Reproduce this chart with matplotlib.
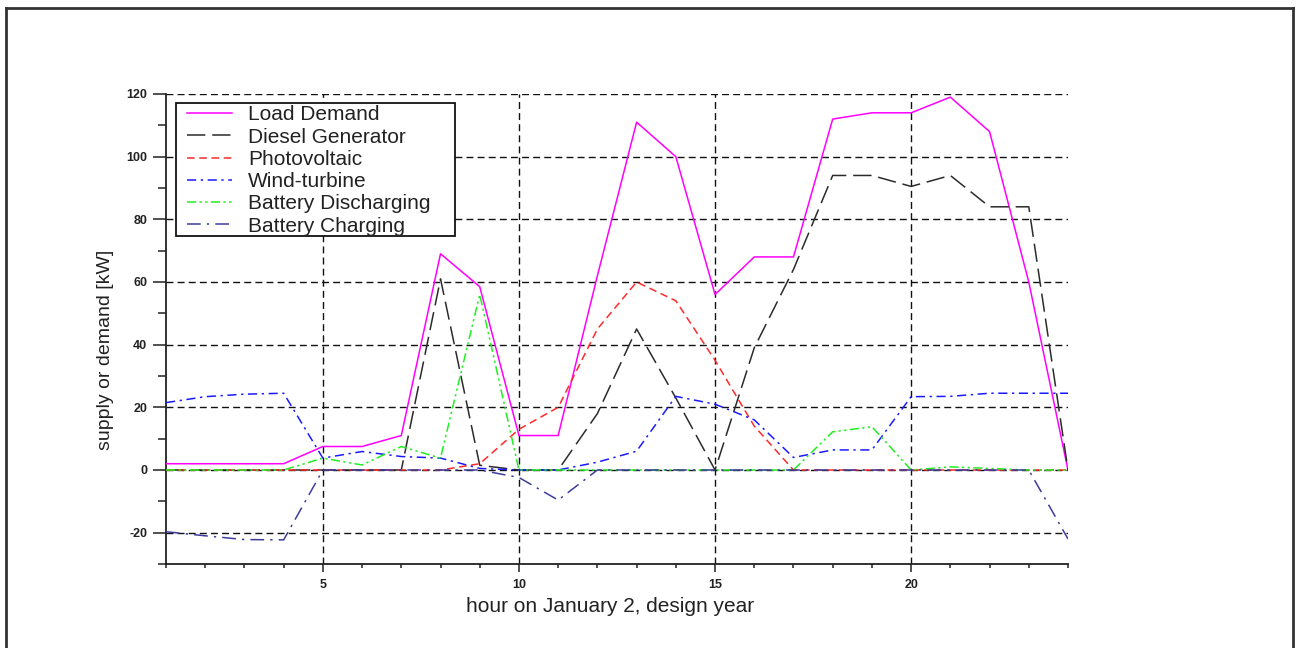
import matplotlib
matplotlib.use("Agg")
import matplotlib.pyplot as plt
from matplotlib.lines import Line2D
from matplotlib.patches import Rectangle
from matplotlib.ticker import MultipleLocator, FixedLocator

plt.rcParams["axes.unicode_minus"] = False

# Hourly supply / demand on January 2 of the design year [kW]
hours = list(range(1, 25))
load_demand = [2, 2, 2, 2, 7.5, 7.5, 11, 69, 58.5, 11, 11, 62, 111, 100,
               56, 68, 68, 112, 114, 114, 119, 108, 60, 0]
diesel = [0, 0, 0, 0, 0, 0, 0, 61, 1.5, 0, 0, 18, 45, 23,
          0, 39, 64, 94, 94, 90.5, 94, 84, 84, 0]
photovoltaic = [0, 0, 0, 0, 0, 0, 0, 0, 2, 13, 20, 45, 60, 54,
                35, 14, 0, 0, 0, 0, 0, 0, 0, 0]
wind_turbine = [21.5, 23.4, 24.2, 24.5, 3.8, 5.9, 4.3, 3.8, 0.5, 0, 0, 2.5, 6, 23.5,
                21, 16, 4, 6.4, 6.4, 23.4, 23.5, 24.5, 24.5, 24.5]
battery_discharging = [0, 0, 0, 0, 3.8, 1.6, 7.5, 3.8, 56, 0, 0, 0, 0, 0,
                       0, 0, 0, 12.2, 13.8, 0, 1, 0.5, 0, 0]
battery_charging = [-19.7, -21, -22.2, -22.3, 0, 0, 0, 0, 0, -2.4, -9.6, 0, 0, 0,
                    0, 0, 0, 0, 0, 0, 0, 0, 0, -22]

series = [
    ("Load Demand", load_demand, "#ff00ff", "-"),
    ("Diesel Generator", diesel, "#2b2b2b", (0, (12, 4.5))),
    ("Photovoltaic", photovoltaic, "#ff2a2a", (0, (5, 3))),
    ("Wind-turbine", wind_turbine, "#1a1aff", (0, (6, 3, 1.5, 3))),
    ("Battery Discharging", battery_discharging, "#22ee22", (0, (6, 2.2, 1.5, 2.2, 1.5, 2.2))),
    ("Battery Charging", battery_charging, "#3c3c9c", (0, (9, 4, 1.5, 4))),
]

W, H = 1298, 648
fig = plt.figure(figsize=(W / 100, H / 100), dpi=100)
fig.patch.set_facecolor("white")

# page frame
for xs, ys in [((6 / W, 1293 / W), (1 - 8 / H, 1 - 8 / H)),
               ((6 / W, 6 / W), (0, 1 - 8 / H)),
               ((1293 / W, 1293 / W), (0, 1 - 8 / H))]:
    fig.add_artist(Line2D(xs, ys, transform=fig.transFigure, color="#333333", lw=2.0))

x0, x1, y0, y1 = 166, 1068, 94, 564
ax = fig.add_axes([x0 / W, 1 - y1 / H, (x1 - x0) / W, (y1 - y0) / H])

for label, vals, color, ls in series:
    ax.plot(hours, vals, color=color, linestyle=ls, lw=1.1, label=label, zorder=3)

ax.set_xlim(1, 24)
ax.set_ylim(-30, 120)

ax.xaxis.set_major_locator(FixedLocator([5, 10, 15, 20]))
ax.xaxis.set_minor_locator(MultipleLocator(1))
ax.yaxis.set_major_locator(FixedLocator([-20, 0, 20, 40, 60, 80, 100, 120]))
ax.yaxis.set_minor_locator(MultipleLocator(10))

for side in ("top", "right"):
    ax.spines[side].set_visible(False)
for side in ("left", "bottom"):
    ax.spines[side].set_linewidth(1.3)
    ax.spines[side].set_color("#222222")

ax.tick_params(axis="y", which="major", direction="out", length=9.5, width=1.1,
               pad=4, colors="#222222")
ax.tick_params(axis="y", which="minor", direction="out", length=5.8, width=1.1,
               colors="#222222")
ax.tick_params(axis="x", which="major", direction="out", length=6, width=1.1,
               pad=5, colors="#222222")
ax.tick_params(axis="x", which="minor", direction="out", length=3, width=1.1,
               colors="#222222")
for lab in ax.get_xticklabels() + ax.get_yticklabels():
    lab.set_fontfamily("Liberation Sans")
    lab.set_fontsize(9)
    lab.set_fontweight("bold")
    lab.set_color("#222222")

ax.grid(True, which="major", color="#111111", linestyle=(0, (5, 3)), lw=1.0, zorder=1)
ax.set_axisbelow(True)

fig.text(105 / W, 1 - 350 / H, "supply or demand [kW]", rotation=90,
         ha="center", va="center", fontsize=14, family="Liberation Sans", color="#222222")
fig.text(610 / W, 1 - 606 / H, "hour on January 2, design year",
         ha="center", va="center", fontsize=15, family="Liberation Sans", color="#222222")

# legend box drawn as its own frame, entries placed inside it
ax.add_patch(Rectangle((176 / W, 1 - 236 / H), (455 - 176) / W, (236 - 103) / H,
                       transform=fig.transFigure, facecolor="white",
                       edgecolor="#111111", lw=1.3, zorder=4, clip_on=False))
leg = ax.legend(loc="upper left", bbox_to_anchor=(187 / W, 1 - 105.5 / H),
                bbox_transform=fig.transFigure, borderaxespad=0, borderpad=0,
                prop={"family": "Liberation Sans", "size": 15},
                labelspacing=0.155, handlelength=2.16, handletextpad=0.77,
                frameon=False)
leg.set_zorder(5)
for t in leg.get_texts():
    t.set_color("#222222")

fig.savefig("out.png", dpi=100, facecolor="white")
